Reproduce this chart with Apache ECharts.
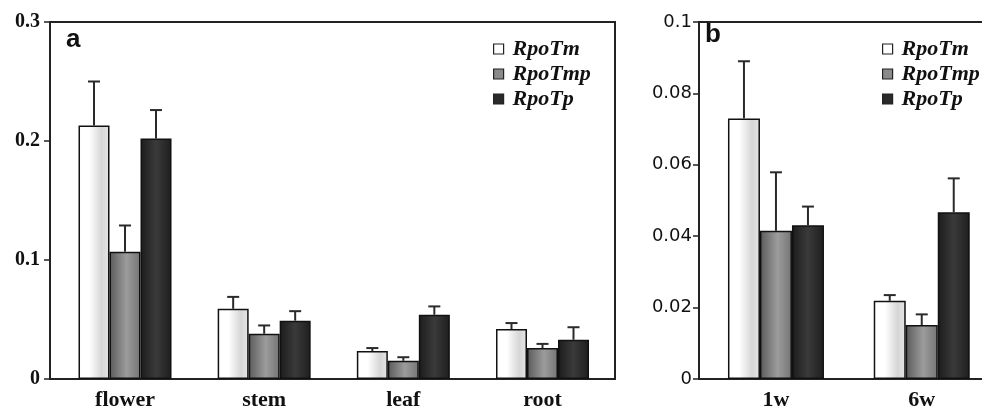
<!DOCTYPE html>
<html>
<head>
<meta charset="utf-8">
<title>RpoT expression</title>
<script src="https://cdn.jsdelivr.net/npm/echarts@6/dist/echarts.min.js"></script>
<style>
  body { margin: 0; padding: 0; background: #fff; }
  #main { width: 982px; height: 408px; }
</style>
</head>
<body>
<div id="main"></div>
<script>
// panel a: tissues
var tissues = ['flower', 'stem', 'leaf', 'root'];
var tissueTm = [0.213, 0.059, 0.0235, 0.042];
var tissueTmp = [0.107, 0.038, 0.0153, 0.026];
var tissueTp = [0.202, 0.049, 0.054, 0.033];
var tissueTmErr = [0.037, 0.010, 0.0025, 0.005];
var tissueTmpErr = [0.022, 0.007, 0.003, 0.0035];
var tissueTpErr = [0.024, 0.008, 0.007, 0.0105];

// panel b: age
var ages = ['1w', '6w'];
var ageTm = [0.073, 0.0219];
var ageTmp = [0.0415, 0.0151];
var ageTp = [0.0431, 0.0467];
var ageTmErr = [0.016, 0.0016];
var ageTmpErr = [0.0164, 0.003];
var ageTpErr = [0.0052, 0.0095];

var names = ['RpoTm', 'RpoTmp', 'RpoTp'];

function grad(stops) {
  return {
    type: 'linear', x: 0, y: 0, x2: 1, y2: 0,
    colorStops: stops.map(function (c) { return {offset: c[0], color: c[1]}; })
  };
}
var fills = [
  grad([[0, '#ffffff'], [0.35, '#ffffff'], [0.75, '#d6d6d6'], [1, '#e6e6e6']]),
  grad([[0, '#5a5a5a'], [0.55, '#9c9c9c'], [1, '#747474']]),
  grad([[0, '#1c1c1c'], [0.5, '#3a3a3a'], [1, '#1e1e1e']])
];
var legendColors = ['#ffffff', '#8a8a8a', '#2a2a2a'];

function barSeries(name, k, data, axis, bw) {
  return {
    name: name, type: 'bar', xAxisIndex: axis, yAxisIndex: axis,
    barWidth: bw, barGap: '0%',
    data: data.map(function (v, i) { return [i, v]; }),
    itemStyle: {color: fills[k], borderColor: '#111', borderWidth: 1.5},
    emphasis: {disabled: true}
  };
}

function errSeries(name, k, means, errs, axis, bw) {
  var d = means.map(function (m, i) { return [i, m, errs[i]]; });
  return {
    name: name, type: 'custom', xAxisIndex: axis, yAxisIndex: axis, z: 3,
    data: d, encode: {x: 0, y: 1},
    renderItem: function (params, api) {
      var v = api.value(1), e = api.value(2);
      var p0 = api.coord([api.value(0), v]);
      var p1 = api.coord([api.value(0), v + e]);
      var cx = p0[0] + (k - 1) * bw;
      var st = {stroke: '#2a2a2a', lineWidth: 2};
      return {
        type: 'group', children: [
          {type: 'line', shape: {x1: cx, y1: p0[1], x2: cx, y2: p1[1]}, style: st},
          {type: 'line', shape: {x1: cx - 6, y1: p1[1], x2: cx + 6, y2: p1[1]}, style: st}
        ]
      };
    }
  };
}

var axisLine = {show: true, onZero: false, lineStyle: {color: '#222', width: 2}};
var legendText = {
  fontFamily: 'Liberation Serif', fontStyle: 'italic', fontWeight: 'bold',
  fontSize: 22, color: '#111', padding: [0, 0, 0, 4]
};
function legend(left) {
  return {
    orient: 'vertical', left: left, top: 33, itemWidth: 10, itemHeight: 10, itemGap: 3,
    icon: 'rect', textStyle: legendText, selectedMode: false,
    data: names.map(function (n, k) {
      return {name: n, itemStyle: {color: legendColors[k], borderColor: '#222', borderWidth: 1.2}};
    })
  };
}

function catAxis(grid, cats, min, max) {
  return {
    type: 'value', gridIndex: grid, min: min, max: max,
    splitLine: {show: false}, axisLine: axisLine, axisTick: {show: false},
    axisLabel: {
      customValues: cats.map(function (c, i) { return i; }),
      formatter: function (v) { return cats[Math.round(v)]; },
      margin: 10, fontFamily: 'Liberation Serif', fontWeight: 'bold', fontSize: 22, color: '#111'
    }
  };
}

var chart = echarts.init(document.getElementById('main'));
chart.setOption({
  animation: false,
  title: [
    {text: 'a', left: 61, top: 22, textStyle: {fontFamily: 'Liberation Sans', fontWeight: 'bold', fontSize: 26, color: '#111'}},
    {text: 'b', left: 700, top: 17, textStyle: {fontFamily: 'Liberation Sans', fontWeight: 'bold', fontSize: 26, color: '#111'}}
  ],
  legend: [legend(488), legend(877)],
  grid: [
    {left: 50, top: 22, width: 565, bottom: 29, outerBoundsMode: 'none', show: true, borderColor: '#222', borderWidth: 2},
    {left: 699, top: 22, width: 293, bottom: 29, outerBoundsMode: 'none', show: true, borderColor: '#222', borderWidth: 2}
  ],
  xAxis: [
    catAxis(0, tissues, -0.539, 3.521),
    catAxis(1, ages, -0.528, 1.482)
  ],
  yAxis: [
    {type: 'value', gridIndex: 0, min: 0, max: 0.3, interval: 0.1, splitLine: {show: false},
      axisLine: axisLine, axisTick: {show: true, length: 6, lineStyle: {color: '#222', width: 1.5}},
      axisLabel: {margin: 10, fontFamily: 'Liberation Serif', fontWeight: 'bold', fontSize: 20, color: '#111'}},
    {type: 'value', gridIndex: 1, min: 0, max: 0.1, interval: 0.02, splitLine: {show: false},
      axisLine: axisLine, axisTick: {show: true, length: 6, lineStyle: {color: '#222', width: 1.5}},
      axisLabel: {margin: 7, fontFamily: 'DejaVu Sans', fontSize: 18, color: '#111'}}
  ],
  series: [
    barSeries('RpoTm', 0, tissueTm, 0, 31),
    barSeries('RpoTmp', 1, tissueTmp, 0, 31),
    barSeries('RpoTp', 2, tissueTp, 0, 31),
    errSeries('RpoTm', 0, tissueTm, tissueTmErr, 0, 31),
    errSeries('RpoTmp', 1, tissueTmp, tissueTmpErr, 0, 31),
    errSeries('RpoTp', 2, tissueTp, tissueTpErr, 0, 31),
    barSeries('RpoTm', 0, ageTm, 1, 32),
    barSeries('RpoTmp', 1, ageTmp, 1, 32),
    barSeries('RpoTp', 2, ageTp, 1, 32),
    errSeries('RpoTm', 0, ageTm, ageTmErr, 1, 32),
    errSeries('RpoTmp', 1, ageTmp, ageTmpErr, 1, 32),
    errSeries('RpoTp', 2, ageTp, ageTpErr, 1, 32)
  ]
});
</script>
</body>
</html>
